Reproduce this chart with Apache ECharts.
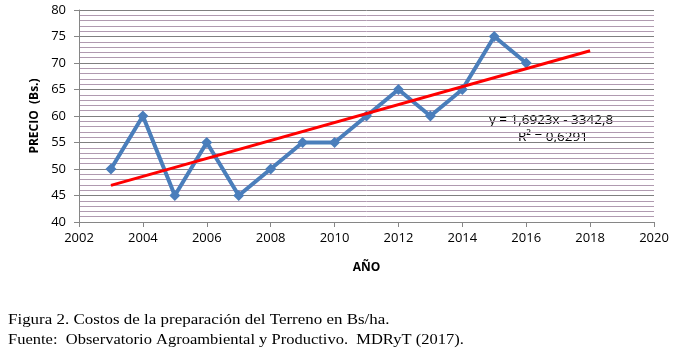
<!DOCTYPE html>
<html>
<head>
<meta charset="utf-8">
<script src="https://cdn.jsdelivr.net/npm/echarts@6/dist/echarts.min.js"></script>
<style>
html,body{margin:0;padding:0;background:#fff;}
#chart{width:677px;height:353px;}
</style>
</head>
<body>
<div id="chart"></div>
<script>
// años y precios (Bs.)
var years = [2003, 2004, 2005, 2006, 2007, 2008, 2009, 2010, 2011, 2012, 2013, 2014, 2015, 2016];
var precios = [50, 60, 45, 55, 45, 50, 55, 55, 60, 65, 60, 65, 75, 70];
// linea de tendencia (extremos)
var trendYears = [2003, 2018];
var trendVals = [46.9, 72.3];

var fontAxis = "Open Sans";

var myChart = echarts.init(document.getElementById("chart"));
var option = {
	animation: false,
	grid: {left: 79, right: 23, top: 10, bottom: 131},
	xAxis: {
		type: "value",
		min: 2002,
		max: 2020,
		interval: 2,
		name: "AÑO",
		nameLocation: "middle",
		nameGap: 40,
		nameTextStyle: {fontFamily: fontAxis, fontWeight: "bold", fontSize: 12, color: "#000"},
		axisLine: {onZero: false, lineStyle: {color: "#868686", width: 1}},
		axisTick: {show: true, length: 5, lineStyle: {color: "#868686"}},
		axisLabel: {fontFamily: fontAxis, fontSize: 13, color: "#000", margin: 10,
			formatter: function(v){ return String(v); }},
		splitLine: {show: false}
	},
	yAxis: {
		type: "value",
		min: 40,
		max: 80,
		interval: 5,
		name: "PRECIO  (Bs.)",
		nameLocation: "middle",
		nameGap: 38,
		nameTextStyle: {fontFamily: fontAxis, fontWeight: "bold", fontSize: 12, color: "#000"},
		axisLine: {show: true, lineStyle: {color: "#868686", width: 1}},
		axisTick: {show: true, length: 5, lineStyle: {color: "#868686"}},
		axisLabel: {fontFamily: fontAxis, fontSize: 13, color: "#000", margin: 13},
		splitLine: {show: true, lineStyle: {color: "#7f7f7f", width: 1}},
		minorTick: {show: false, splitNumber: 5},
		minorSplitLine: {show: true, lineStyle: {color: "#b09ab0", width: 1}}
	},
	series: [
		{
			name: "Precio",
			type: "line",
			data: years.map(function(y, i){ return [y, precios[i]]; }),
			symbol: "diamond",
			symbolSize: 11,
			lineStyle: {color: "#4a7ebb", width: 4},
			itemStyle: {color: "#4a7ebb"},
			z: 3
		},
		{
			name: "Tendencia",
			type: "line",
			data: trendYears.map(function(y, i){ return [y, trendVals[i]]; }),
			symbol: "none",
			lineStyle: {color: "#ff0000", width: 3},
			z: 4
		}
	],
	graphic: [
		{type: "text", left: 489, top: 113, style: {text: "y = 1,6923x - 3342,8", font: "13.5px " + fontAxis, fill: "#000"}},
		{type: "text", left: 518, top: 130, style: {text: "R² = 0,6291", font: "13.5px " + fontAxis, fill: "#000"}},
		{type: "text", x: 8, y: 313, scaleX: 1.13, style: {text: "Figura 2. Costos de la preparación del Terreno en Bs/ha.", font: "15px 'Liberation Serif'", fill: "#000"}},
		{type: "text", x: 8, y: 333, scaleX: 1.1, style: {text: "Fuente:  Observatorio Agroambiental y Productivo.  MDRyT (2017).", font: "15px 'Liberation Serif'", fill: "#000"}}
	]
};
myChart.setOption(option);
</script>
</body>
</html>
